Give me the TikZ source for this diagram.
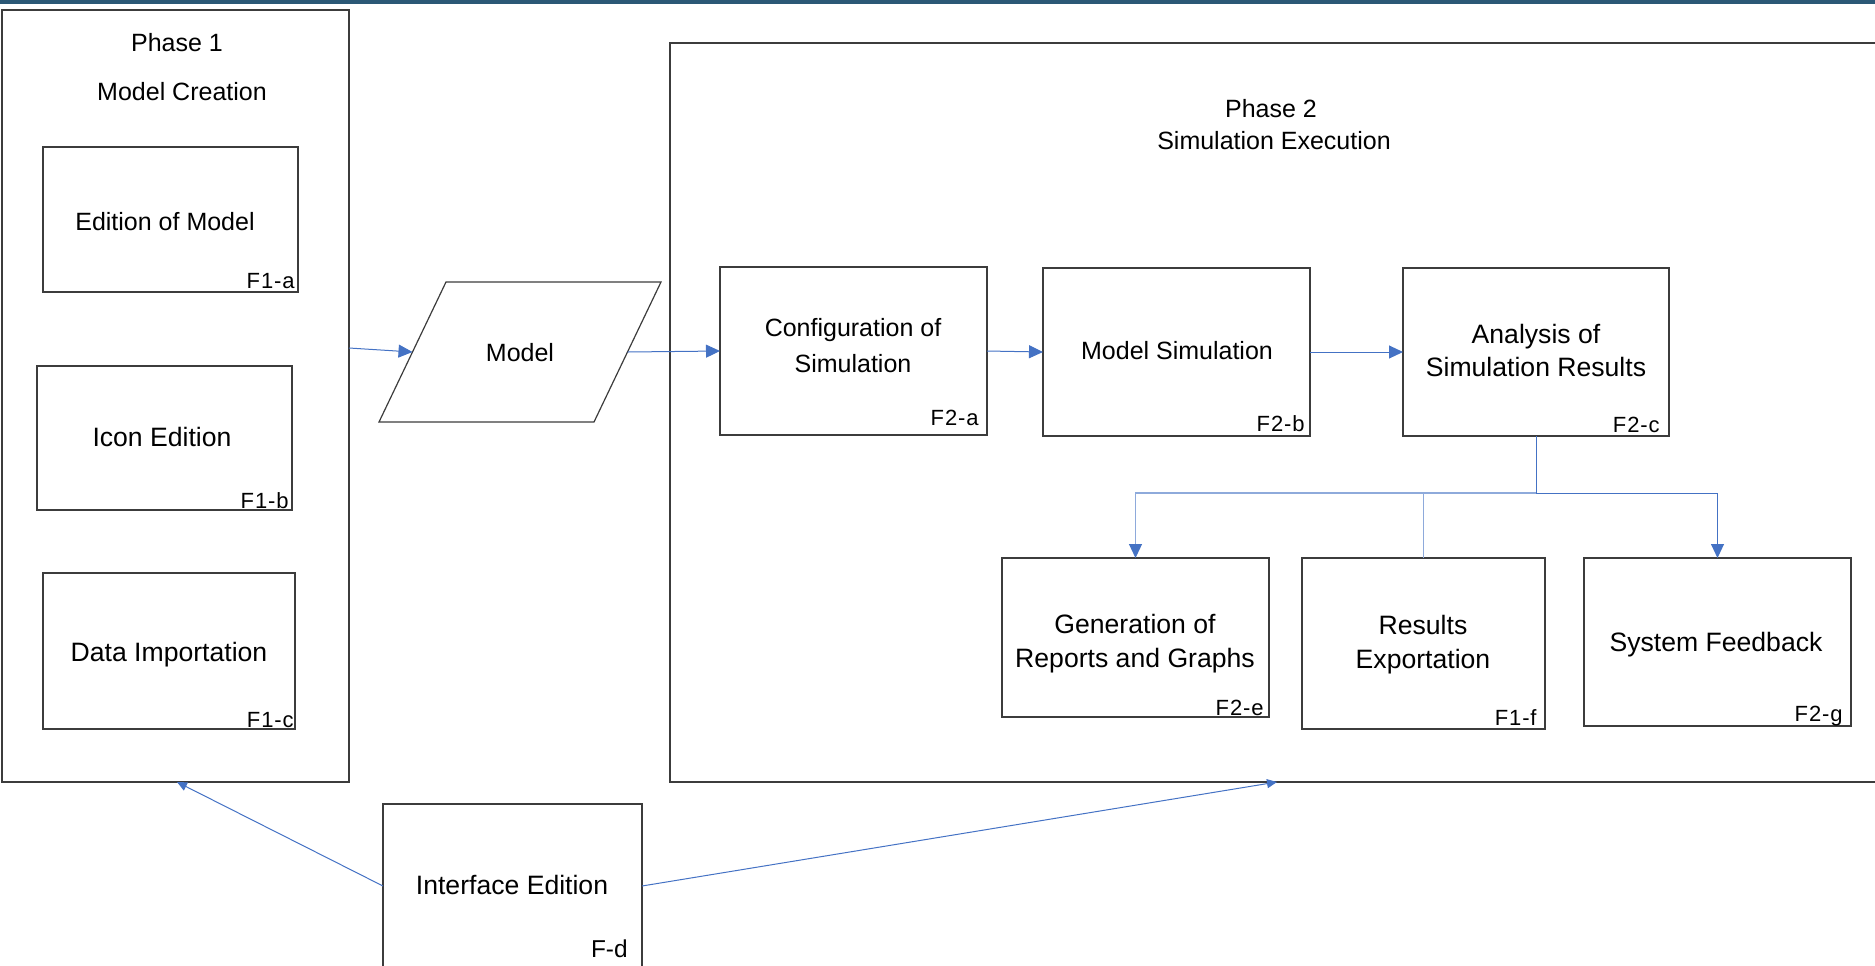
\documentclass[tikz,border=0pt]{standalone}
\usepackage{fontspec}
\setmainfont{Liberation Sans}
\newfontfamily\tagfont[LetterSpace=4]{Liberation Sans}
\usetikzlibrary{arrows.meta,fit,calc}
\definecolor{link}{HTML}{4472C4}
\definecolor{linklight}{HTML}{8EAADB}
\definecolor{edge}{HTML}{3C3C3C}
\definecolor{band}{HTML}{2B5876}

\begin{document}
\begin{tikzpicture}[x=0.5pt,y=-0.5pt,
  frame/.style={draw=edge,line width=0.65pt,inner sep=0pt,outer sep=0pt},
  box/.style={draw=edge,line width=0.65pt,fill=white,inner sep=0pt,outer sep=0pt},
  txt/.style={inner sep=0pt,anchor=base,font=\fontsize{12.5}{15}\selectfont},
  big/.style={inner sep=0pt,anchor=base,font=\fontsize{13.3}{16}\selectfont},
  tag/.style={inner sep=0pt,anchor=base east,font=\fontsize{11}{13}\tagfont},
  flow/.style={draw=link,line width=0.5pt,-{Triangle[length=7pt,width=6.5pt]}},
  flowlight/.style={draw=linklight,line width=0.6pt,-{Triangle[length=7pt,width=6.5pt,color=link]}},
  thin/.style={draw=link,line width=0.5pt,-{Triangle[length=5pt,width=4.5pt]}}
]
\clip (0,0) rectangle (1875,965);
\fill[band] (0,0) rectangle (1875,4);

% ---- Phase 1 ----
\node[frame,fit={(2,10)(349,782)}] (p1) {};
\node[txt] (p1-t1) at (177,51) {Phase 1};
\node[txt] (p1-t2) at (182,100) {Model Creation};

\node[box,fit={(43,147)(298,292)}] (edit) {};
\node[txt] (edit-t) at (165,230) {Edition of Model};
\node[tag] (edit-tag) at (295,288) {F1-a};

\node[box,fit={(37,366)(292,510)}] (icon) {};
\node[big] (icon-t) at (162,446) {Icon Edition};
\node[tag] (icon-tag) at (289,508) {F1-b};

\node[box,fit={(43,573)(295,729)}] (data) {};
\node[big] (data-t) at (169,661) {Data Importation};
\node[tag] (data-tag) at (294,727) {F1-c};

% ---- Phase 2 ----
\node[frame,fit={(670,43)(1895,782)}] (p2) {};
\node[txt] (p2-t1) at (1271,117) {Phase 2};
\node[txt] (p2-t2) at (1274,149) {Simulation Execution};

\node[box,fit={(720,267)(987,435)}] (cfg) {};
\node[txt] (cfg-t1) at (853,336) {Configuration of};
\node[txt] (cfg-t2) at (853,372) {Simulation};
\node[tag] (cfg-tag) at (979,425) {F2-a};

\node[box,fit={(1043,268)(1310,436)}] (sim) {};
\node[txt] (sim-t) at (1177,359) {Model Simulation};
\node[tag] (sim-tag) at (1305,431) {F2-b};

\node[box,fit={(1403,268)(1669,436)}] (ana) {};
\node[big] (ana-t1) at (1536,343) {Analysis of};
\node[big] (ana-t2) at (1536,376) {Simulation Results};
\node[tag] (ana-tag) at (1660,432) {F2-c};

\node[box,fit={(1002,558)(1269,717)}] (rep) {};
\node[big] (rep-t1) at (1135,633) {Generation of};
\node[big] (rep-t2) at (1135,667) {Reports and Graphs};
\node[tag] (rep-tag) at (1264,715) {F2-e};

\node[box,fit={(1302,558)(1545,729)}] (res) {};
\node[big] (res-t1) at (1423,634) {Results};
\node[big] (res-t2) at (1423,668) {Exportation};
\node[tag] (res-tag) at (1537,725) {F1-f};

\node[box,fit={(1584,558)(1851,726)}] (fb) {};
\node[big] (fb-t) at (1716,651) {System Feedback};
\node[tag] (fb-tag) at (1843,721) {F2-g};

% ---- model data (parallelogram) ----
\draw[edge,line width=0.6pt,fill=white] (446,282) -- (661,282) -- (594,422) -- (379,422) -- cycle;
\node[txt] (model) at (520,361) {Model};
\coordinate (model-in) at (412.5,352);
\coordinate (model-out) at (627.5,352);

% ---- interface ----
\node[box,fit={(383,804)(642,968)}] (ifc) {};
\node[big] (ifc-t) at (512,894) {Interface Edition};
\node[inner sep=0pt,anchor=base east,font=\fontsize{12.2}{14}\selectfont] (ifc-tag) at (628,957) {F-d};

% ---- connectors ----
\coordinate (p1-out) at (349,348);
\draw[flow] (p1-out) -- (model-in);
\draw[flow] (model-out) -- (cfg.west);
\draw[flow] (cfg.east) -- (sim.west);
\draw[flow] (sim.east) -- (ana.west);

\coordinate (split) at (1536,493);
\draw[flow] (ana.south) -- (split) -| (fb.north);
\draw[flowlight] (split) -| (rep.north);
\draw[draw=linklight,line width=0.6pt] (split -| res.north) -- (res.north);

\coordinate (p1-in) at (177,782);
\coordinate (p2-in) at (1277,782);
\draw[thin] (ifc.west) -- (p1-in);
\draw[thin] (ifc.east) -- (p2-in);
\end{tikzpicture}
\end{document}
